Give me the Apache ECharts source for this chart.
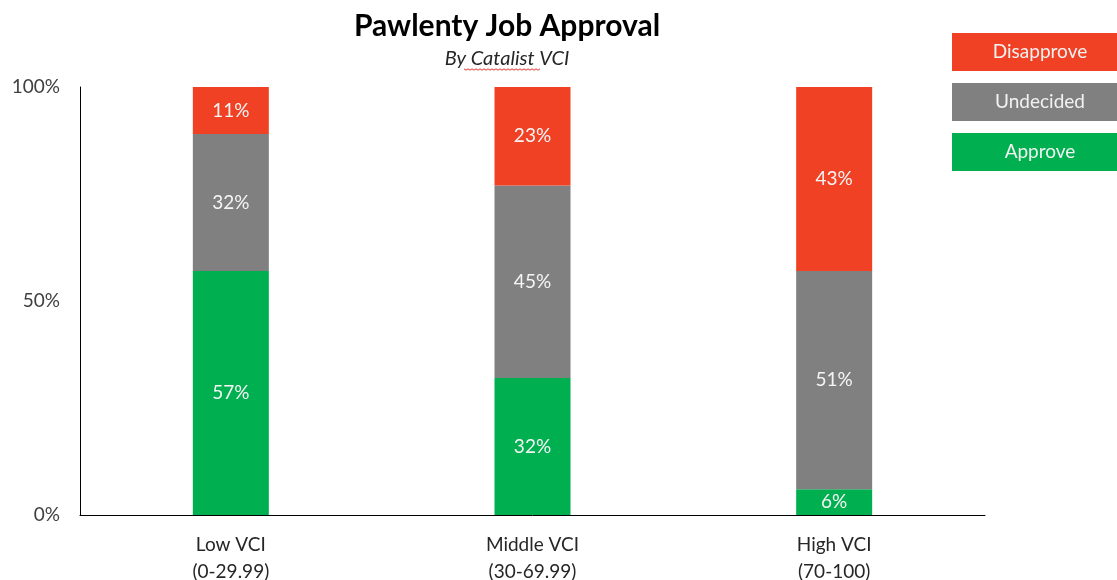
<!DOCTYPE html>
<html><head><meta charset="utf-8">
<script src="https://cdn.jsdelivr.net/npm/echarts@6/dist/echarts.min.js"></script>
<style>html,body{margin:0;padding:0;background:#fff}#c{width:1117px;height:580px}</style>
</head><body><div id="c"></div>
<script>
const categories = ['Low VCI\n(0-29.99)', 'Middle VCI\n(30-69.99)', 'High VCI\n(70-100)'];
const approve = [57, 32, 6];
const undecided = [32, 45, 51];
const disapprove = [11, 23, 43];
const seriesNames = ['Approve', 'Undecided', 'Disapprove'];
const colors = ['#00B050', '#808080', '#F04124'];
const FONT = 'Lato, "Open Sans", sans-serif';

const chart = echarts.init(document.getElementById('c'));
const mk = (name, data, color) => ({
  name, type: 'bar', stack: 'all', data, barWidth: 76,
  itemStyle: { color },
  label: { show: true, position: 'inside', formatter: '{c}%', color: '#f5f5f5', fontSize: 19, fontFamily: FONT }
});
const legendItems = [['Disapprove', colors[2], 33], ['Undecided', colors[1], 83], ['Approve', colors[0], 133]];
const graphics = [];
legendItems.forEach(([t, c, y]) => {
  graphics.push({ type: 'rect', shape: { x: 952, y: y, width: 165, height: 38 }, style: { fill: c } });
  graphics.push({ type: 'text', style: { text: t, x: 1040, y: y + 19, fill: '#f2f2f2', font: '19px ' + FONT, textAlign: 'center', textVerticalAlign: 'middle', align: 'center', verticalAlign: 'middle' } });
});
// spell-check squiggle under "Catalist"
const pts = [];
for (let i = 0; i <= 38; i++) pts.push([464 + i * 2, 69 + (i % 2 ? 1.2 : -0.2)]);
graphics.push({ type: 'polyline', shape: { points: pts }, style: { stroke: '#e03030', lineWidth: 1, fill: null } });

chart.setOption({
  animation: false,
  title: [
    { text: 'Pawlenty Job Approval', left: 502, top: 6, textAlign: 'center', textStyle: { fontSize: 30, fontWeight: 'bold', color: '#000', fontFamily: FONT } },
    { text: 'By Catalist VCI', left: 502, top: 44, textAlign: 'center', textStyle: { fontSize: 20, fontStyle: 'italic', fontWeight: 'normal', color: '#262626', fontFamily: FONT } }
  ],
  grid: { left: 80, right: 132, top: 87, bottom: 65, outerBoundsMode: 'none', containLabel: false },
  xAxis: {
    type: 'category', data: categories,
    axisLine: { lineStyle: { color: '#000', width: 1 } },
    axisTick: { show: false },
    axisLabel: { color: '#262626', fontSize: 19, fontFamily: FONT, margin: 16, lineHeight: 27 }
  },
  yAxis: {
    type: 'value', min: 0, max: 100, interval: 50,
    axisLine: { show: true, lineStyle: { color: '#000', width: 1 } },
    axisTick: { show: false },
    splitLine: { show: false },
    axisLabel: { formatter: '{value}%', color: '#404040', fontSize: 19, fontFamily: FONT, margin: 20 }
  },
  series: [mk(seriesNames[0], approve, colors[0]), mk(seriesNames[1], undecided, colors[1]), mk(seriesNames[2], disapprove, colors[2])],
  graphic: graphics
});
</script></body></html>
